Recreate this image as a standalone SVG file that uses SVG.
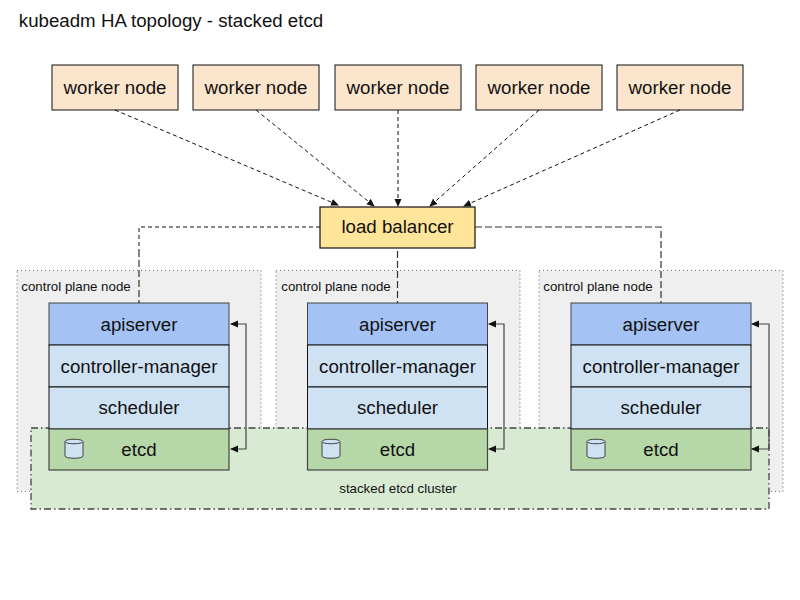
<svg xmlns="http://www.w3.org/2000/svg" width="800" height="600" viewBox="0 0 800 600">
<style>
text{font-family:"Liberation Sans",Arial,sans-serif;fill:#111;text-anchor:middle}
.t{font-size:18.700px}
.s{font-size:13.300px}
.w{fill:#fce5cd;stroke:#111;stroke-width:1}
.lb{fill:#ffe599;stroke:#111;stroke-width:1.2}
.cp{fill:#efefef;stroke:#777;stroke-width:1.2;stroke-dasharray:1 3}
.api{fill:#a4c2f4;stroke:#444;stroke-width:1}
.blue{fill:#cfe2f3;stroke:#111;stroke-width:1}
.et{fill:#b6d7a8;stroke:#444;stroke-width:1.2}
.cl{fill:#d9ead3;stroke:#444;stroke-width:1.300;stroke-dasharray:7 3 1.500 3}
.d{fill:none;stroke:#111;stroke-width:1;stroke-dasharray:4 3}
.d2{fill:none;stroke:#333;stroke-width:1.200;stroke-dasharray:7 3}
.r{fill:none;stroke:#444;stroke-width:1.200}
.cy{fill:#cfe2f3;stroke:#444;stroke-width:1}
</style>
<defs>
<marker id="a" viewBox="0 0 8 8" refX="7" refY="4" markerWidth="8" markerHeight="8" markerUnits="userSpaceOnUse" orient="auto-start-reverse"><path d="M0 .5L8 4L0 7.500z" fill="#111"/></marker>
<g id="cyl"><path class="cy" d="M0 3.500C0 .5 18 .5 18 3.500V18C18 21 0 21 0 18z"/><path class="cy" fill="none" d="M0 3.500C0 6.500 18 6.500 18 3.500"/></g>
</defs>
<text x="171" y="27" class="t">kubeadm HA topology - stacked etcd</text>
<g id="cp1"><rect class="cp" x="17" y="270.500" width="244" height="221"/><text x="76" y="291" class="s">control plane node</text></g>
<g id="cp2"><rect class="cp" x="276" y="270.500" width="244" height="221"/><text x="336" y="291" class="s">control plane node</text></g>
<g id="cp3"><rect class="cp" x="539" y="270.500" width="244" height="221"/><text x="598" y="291" class="s">control plane node</text></g>
<g id="cluster"><rect class="cl" x="31" y="428" width="738" height="81"/><text x="398" y="493" class="s">stacked etcd cluster</text></g>
<g id="w1"><rect class="w" x="52" y="65" width="126" height="45"/><text x="115" y="94" class="t">worker node</text></g>
<g id="w2"><rect class="w" x="193" y="65" width="126" height="45"/><text x="256" y="94" class="t">worker node</text></g>
<g id="w3"><rect class="w" x="335" y="65" width="126" height="45"/><text x="398" y="94" class="t">worker node</text></g>
<g id="w4"><rect class="w" x="476" y="65" width="126" height="45"/><text x="539" y="94" class="t">worker node</text></g>
<g id="w5"><rect class="w" x="617" y="65" width="126" height="45"/><text x="680" y="94" class="t">worker node</text></g>
<g id="lb"><rect class="lb" x="320" y="207" width="155" height="41"/><text x="397.500" y="233" class="t">load balancer</text></g>
<g id="s1">
<rect class="api" x="49" y="303" width="180" height="42"/><text x="139" y="331" class="t">apiserver</text>
<rect class="blue" x="49" y="345" width="180" height="42"/><text x="139" y="373" class="t">controller-manager</text>
<rect class="blue" x="49" y="387" width="180" height="42"/><text x="139" y="414" class="t">scheduler</text>
<rect class="et" x="49" y="429" width="180" height="41"/><text x="139" y="456" class="t">etcd</text>
<use href="#cyl" x="65" y="438"/></g>
<g id="s2">
<rect class="api" x="307.500" y="303" width="180" height="42"/><text x="397.500" y="331" class="t">apiserver</text>
<rect class="blue" x="307.500" y="345" width="180" height="42"/><text x="397.500" y="373" class="t">controller-manager</text>
<rect class="blue" x="307.500" y="387" width="180" height="42"/><text x="397.500" y="414" class="t">scheduler</text>
<rect class="et" x="307.500" y="429" width="180" height="41"/><text x="397.500" y="456" class="t">etcd</text>
<use href="#cyl" x="322" y="438"/></g>
<g id="s3">
<rect class="api" x="571" y="303" width="180" height="42"/><text x="661" y="331" class="t">apiserver</text>
<rect class="blue" x="571" y="345" width="180" height="42"/><text x="661" y="373" class="t">controller-manager</text>
<rect class="blue" x="571" y="387" width="180" height="42"/><text x="661" y="414" class="t">scheduler</text>
<rect class="et" x="571" y="429" width="180" height="41"/><text x="661" y="456" class="t">etcd</text>
<use href="#cyl" x="587" y="438"/></g>
<g id="connectors">
<path class="d" marker-end="url(#a)" d="M115 110L338 205"/>
<path class="d" marker-end="url(#a)" d="M256 110L374 206"/>
<path class="d" marker-end="url(#a)" d="M398 110V206"/>
<path class="d" marker-end="url(#a)" d="M539 110L430 206"/>
<path class="d" marker-end="url(#a)" d="M680 110L464 206"/>
<path class="d" d="M320 227H139V250"/><path class="d2" d="M139 250V303"/>
<path class="d2" d="M397.500 251V303"/>
<path class="d2" d="M475 227H661V303"/>
<path class="r" marker-end="url(#a)" marker-start="url(#a)" d="M231 324H246V449H231"/>
<path class="r" marker-end="url(#a)" marker-start="url(#a)" d="M489 324H504V449H489"/>
<path class="r" marker-end="url(#a)" marker-start="url(#a)" d="M752 324H769V449H752"/>
</g>
</svg>
